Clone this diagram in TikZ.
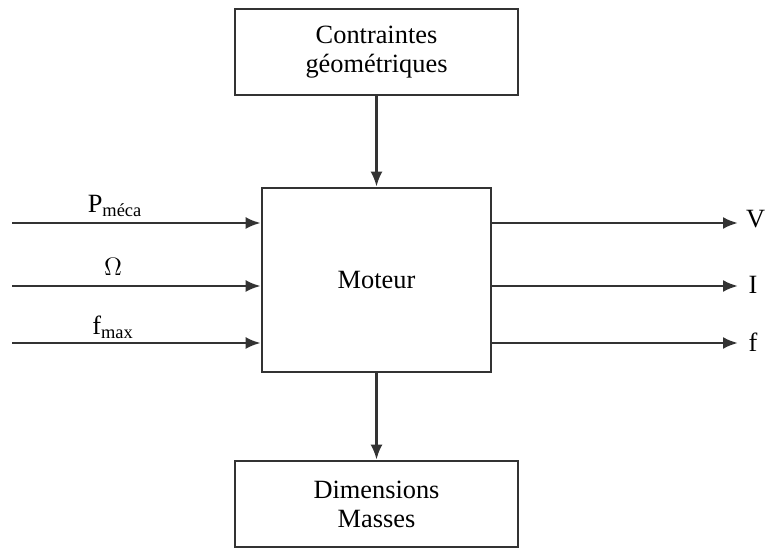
\documentclass[tikz,border=0pt]{standalone}
\usepackage{fontspec}
\setmainfont{Liberation Serif}
\usetikzlibrary{arrows.meta}

\tikzset{
    bloc/.style={draw=black!80, line width=1.5pt, fill=white, align=center,
        font=\fontsize{15}{16.5}\selectfont},
    fleche/.style={draw=black!80, line width=1.5pt,
        -{Latex[length=0.3cm,width=0.24cm]}},
    etiquette/.style={font=\fontsize{15}{16.5}\selectfont}
}

\begin{document}
\begin{tikzpicture}[scale=1]

    % Fix the page size
    \useasboundingbox (0,0) rectangle (15.3,10.94);
    \clip (0,0) rectangle (15.3,10.94);

    % The motor block and the two blocks above and below it
    \node[bloc, minimum width=4.58cm, minimum height=3.68cm] (moteur) at (7.53,5.34) {Moteur};
    \node[bloc, minimum width=5.66cm, minimum height=1.72cm] (contraintes) at (7.53,9.9)
        {Contraintes\\g\'eom\'etriques};
    \node[bloc, minimum width=5.66cm, minimum height=1.72cm] (dimensions) at (7.53,0.86)
        {Dimensions\\Masses};

    % Vertical links
    \draw[fleche] (contraintes.south) -- (moteur.north);
    \draw[fleche] (moteur.south) -- (dimensions.north);

    % Free ends of the inputs
    \coordinate (e1) at (0.24,6.48);
    \coordinate (e2) at (0.24,5.22);
    \coordinate (e3) at (0.24,4.08);

    % Free ends of the outputs
    \coordinate (s1) at (14.76,6.48);
    \coordinate (s2) at (14.76,5.22);
    \coordinate (s3) at (14.76,4.08);

    % Inputs on the left side
    \draw[fleche] (e1) -- (e1 -| moteur.west);
    \draw[fleche] (e2) -- (e2 -| moteur.west);
    \draw[fleche] (e3) -- (e3 -| moteur.west);

    % Outputs on the right side
    \draw[fleche] (s1 -| moteur.east) -- (s1);
    \draw[fleche] (s2 -| moteur.east) -- (s2);
    \draw[fleche] (s3 -| moteur.east) -- (s3);

    % Input labels above the arrows
    \node[etiquette] (pmeca) at (2.3,6.82) {P\textsubscript{m\'eca}};
    \node[etiquette] (omega) at (2.26,5.6) {$\Omega$};
    \node[etiquette] (fmax) at (2.26,4.4) {f\textsubscript{max}};

    % Output labels
    \node[etiquette, right] (v) at (14.8,6.56) {V};
    \node[etiquette, right] (i) at (14.85,5.25) {I};
    \node[etiquette, right] (f) at (14.85,4.1) {f};

\end{tikzpicture}
\end{document}
